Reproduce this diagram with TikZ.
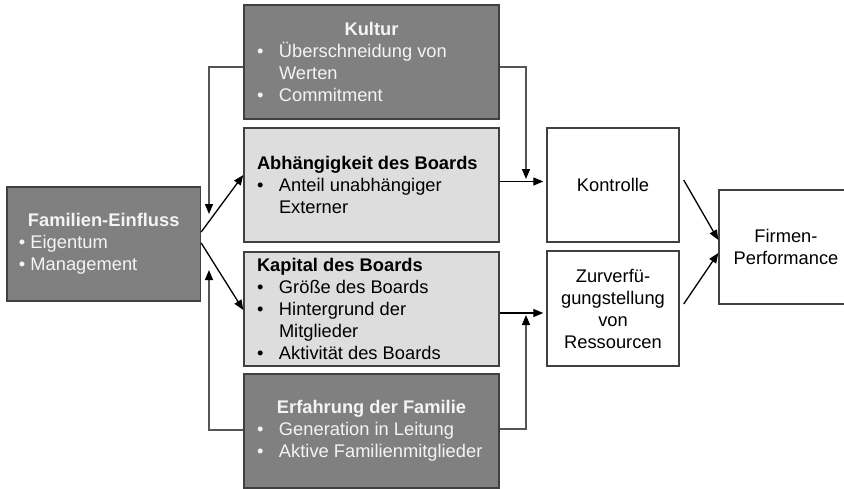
\documentclass[tikz,border=0pt]{standalone}
\usepackage{fontspec}
\setmainfont{Liberation Sans}
\usetikzlibrary{arrows.meta,calc}
\definecolor{darkbox}{HTML}{808080}
\definecolor{lightbox}{HTML}{DDDDDD}
\definecolor{boxedge}{HTML}{404040}
\definecolor{modline}{HTML}{555555}
\definecolor{lighttext}{HTML}{F4F4F4}
\newcommand\bl{\makebox[22pt][l]{\textbullet}}
\newcommand\ind{\hspace*{22pt}}
\newcommand\ctitle[1]{\makebox[\linewidth][c]{\bfseries #1}}
\begin{document}
\begin{tikzpicture}[x=1pt,y=1pt,
  box/.style={draw=boxedge, line width=1.4pt, rectangle, inner sep=0pt,
    font=\fontsize{18.3}{22}\selectfont},
  darkb/.style={box, fill=darkbox, text=lighttext},
  lightb/.style={box, fill=lightbox, text=black},
  whiteb/.style={box, fill=white, text=black, align=center},
  mainarrow/.style={draw=black, line width=1.3pt, -{Triangle[length=10pt,width=8pt]}},
  modarrow/.style={draw=modline, line width=1.3pt, -{Triangle[length=10pt,width=8pt]}, arrows={-{Triangle[length=10pt,width=8pt,color=black]}}}
]
\path[use as bounding box, clip] (0,0) rectangle (844,-488);
\fill[white] (0,0) rectangle (844,-488);

\node[darkb, minimum width=255pt, minimum height=114pt] (kul) at (371.5,-62)
  {\parbox{229pt}{\raggedright\ctitle{Kultur}\\
   \bl Überschneidung von\\
   \ind Werten\\
   \bl Commitment}};
\node[lightb, minimum width=255pt, minimum height=114pt] (abh) at (371.5,-185)
  {\parbox{229pt}{\raggedright\textbf{Abhängigkeit des Boards}\\
   \bl Anteil unabhängiger\\
   \ind Externer}};
\node[lightb, minimum width=255pt, minimum height=114pt] (kap) at (371.5,-309)
  {\parbox{229pt}{\raggedright\textbf{Kapital des Boards}\\
   \bl Größe des Boards\\
   \bl Hintergrund der\\
   \ind Mitglieder\\
   \bl Aktivität des Boards}};
\node[darkb, minimum width=255pt, minimum height=114pt] (erf) at (371.5,-431)
  {\parbox{229pt}{\raggedright\ctitle{Erfahrung der Familie}\\
   \bl Generation in Leitung\\
   \bl Aktive Familienmitglieder}};
\node[darkb, minimum width=193.5pt, minimum height=114pt] (fam) at (103.75,-244)
  {\parbox{169.5pt}{\raggedright\ctitle{Familien-Einfluss}\\
   \textbullet\ Eigentum\\
   \textbullet\ Management}};
\node[whiteb, minimum width=132pt, minimum height=114pt] (kon) at (613,-185) {Kontrolle};
\node[whiteb, minimum width=132pt, minimum height=115pt] (zur) at (613,-308.5)
  {Zurverfü-\\gungstellung\\von\\Ressourcen};
\node[whiteb, minimum width=134pt, minimum height=114pt] (fir) at (786,-247)
  {Firmen-\\Performance};

\coordinate (m1) at (209,-214);
\coordinate (m2) at (209,-270);
\coordinate (m3) at (526,-179);
\coordinate (m4) at (526,-315);

% main arrows
\draw[mainarrow] ($(fam.east)+(0,12)$) -- ($(abh.west)+(0,10)$);
\draw[mainarrow] ($(fam.east)+(0,1)$) -- ($(kap.west)+(0,-1)$);
\draw[mainarrow] ($(abh.east)+(0,3.5)$) -- ($(kon.west)+(-3,3.5)$);
\draw[mainarrow] ($(kap.east)+(0,-4)$) -- ($(zur.west)+(-3,-4.5)$);
\draw[mainarrow] ($(kon.east)+(4,5)$) -- ($(fir.west)+(0,7)$);
\draw[mainarrow] ($(zur.east)+(4,4.5)$) -- ($(fir.west)+(0,-6)$);

% moderating arrows
\draw[modarrow] ($(kul.west)+(0,-5)$) -| (m1);
\draw[modarrow] ($(erf.west)+(0,1)$) -| (m2);
\draw[modarrow] ($(kul.east)+(0,-5)$) -| (m3);
\draw[modarrow] ($(erf.east)+(0,2)$) -| (m4);
\end{tikzpicture}
\end{document}
